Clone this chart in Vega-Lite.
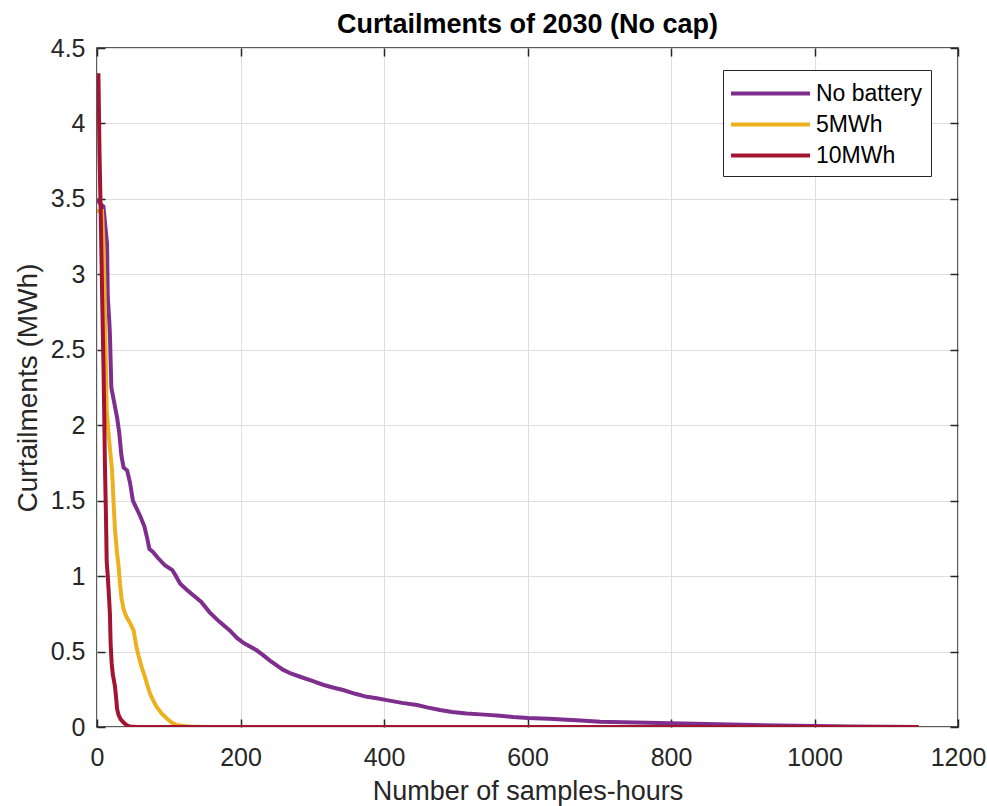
{
  "$schema": "https://vega.github.io/schema/vega-lite/v6.json",
  "width": 861,
  "height": 679,
  "autosize": {"type": "none"},
  "padding": {"left": 97, "top": 48, "right": 29, "bottom": 79},
  "background": "white",
  "title": {"text": "Curtailments of 2030 (No cap)", "fontSize": 27, "fontWeight": "bold", "font": "Liberation Sans", "color": "black", "offset": -3, "anchor": "middle"},
  "config": {"view": {"stroke": "#262626", "strokeWidth": 1.5}, "font": "Liberation Sans"},
  "datasets": {
    "curves": [
      {"s": "No battery", "x": 0, "y": 3.5}, {"s": "No battery", "x": 4, "y": 3.47}, {"s": "No battery", "x": 9, "y": 3.45}, {"s": "No battery", "x": 12, "y": 3.3}, {"s": "No battery", "x": 14, "y": 3.2}, {"s": "No battery", "x": 15, "y": 2.85}, {"s": "No battery", "x": 17, "y": 2.7}, {"s": "No battery", "x": 18, "y": 2.6}, {"s": "No battery", "x": 20, "y": 2.25}, {"s": "No battery", "x": 24, "y": 2.15}, {"s": "No battery", "x": 28, "y": 2.05}, {"s": "No battery", "x": 31, "y": 1.95}, {"s": "No battery", "x": 34, "y": 1.8}, {"s": "No battery", "x": 37, "y": 1.72}, {"s": "No battery", "x": 42, "y": 1.7}, {"s": "No battery", "x": 46, "y": 1.62}, {"s": "No battery", "x": 50, "y": 1.5}, {"s": "No battery", "x": 55, "y": 1.45}, {"s": "No battery", "x": 60, "y": 1.4}, {"s": "No battery", "x": 66, "y": 1.33}, {"s": "No battery", "x": 70, "y": 1.25}, {"s": "No battery", "x": 73, "y": 1.18}, {"s": "No battery", "x": 78, "y": 1.16}, {"s": "No battery", "x": 85, "y": 1.12}, {"s": "No battery", "x": 95, "y": 1.07}, {"s": "No battery", "x": 105, "y": 1.04}, {"s": "No battery", "x": 110, "y": 1.0}, {"s": "No battery", "x": 116, "y": 0.95}, {"s": "No battery", "x": 125, "y": 0.91}, {"s": "No battery", "x": 135, "y": 0.87}, {"s": "No battery", "x": 145, "y": 0.83}, {"s": "No battery", "x": 157, "y": 0.76}, {"s": "No battery", "x": 170, "y": 0.7}, {"s": "No battery", "x": 185, "y": 0.64}, {"s": "No battery", "x": 195, "y": 0.59}, {"s": "No battery", "x": 205, "y": 0.555}, {"s": "No battery", "x": 222, "y": 0.51}, {"s": "No battery", "x": 232, "y": 0.475}, {"s": "No battery", "x": 241, "y": 0.44}, {"s": "No battery", "x": 250, "y": 0.41}, {"s": "No battery", "x": 259, "y": 0.38}, {"s": "No battery", "x": 270, "y": 0.355}, {"s": "No battery", "x": 283, "y": 0.333}, {"s": "No battery", "x": 300, "y": 0.305}, {"s": "No battery", "x": 315, "y": 0.28}, {"s": "No battery", "x": 330, "y": 0.26}, {"s": "No battery", "x": 343, "y": 0.245}, {"s": "No battery", "x": 360, "y": 0.22}, {"s": "No battery", "x": 376, "y": 0.2}, {"s": "No battery", "x": 390, "y": 0.19}, {"s": "No battery", "x": 404, "y": 0.178}, {"s": "No battery", "x": 425, "y": 0.16}, {"s": "No battery", "x": 446, "y": 0.146}, {"s": "No battery", "x": 460, "y": 0.13}, {"s": "No battery", "x": 478, "y": 0.113}, {"s": "No battery", "x": 495, "y": 0.1}, {"s": "No battery", "x": 515, "y": 0.09}, {"s": "No battery", "x": 540, "y": 0.082}, {"s": "No battery", "x": 562, "y": 0.074}, {"s": "No battery", "x": 580, "y": 0.066}, {"s": "No battery", "x": 601, "y": 0.06}, {"s": "No battery", "x": 630, "y": 0.055}, {"s": "No battery", "x": 655, "y": 0.048}, {"s": "No battery", "x": 680, "y": 0.042}, {"s": "No battery", "x": 701, "y": 0.035}, {"s": "No battery", "x": 750, "y": 0.03}, {"s": "No battery", "x": 800, "y": 0.025}, {"s": "No battery", "x": 850, "y": 0.02}, {"s": "No battery", "x": 900, "y": 0.015}, {"s": "No battery", "x": 950, "y": 0.01}, {"s": "No battery", "x": 1000, "y": 0.006}, {"s": "No battery", "x": 1050, "y": 0.004}, {"s": "No battery", "x": 1100, "y": 0.002}, {"s": "No battery", "x": 1145, "y": 0},
      {"s": "5MWh", "x": 0, "y": 3.42}, {"s": "5MWh", "x": 7, "y": 3.42}, {"s": "5MWh", "x": 9, "y": 3.2}, {"s": "5MWh", "x": 10.5, "y": 2.9}, {"s": "5MWh", "x": 12, "y": 2.5}, {"s": "5MWh", "x": 13.5, "y": 2.1}, {"s": "5MWh", "x": 16, "y": 1.95}, {"s": "5MWh", "x": 19, "y": 1.8}, {"s": "5MWh", "x": 21, "y": 1.7}, {"s": "5MWh", "x": 23, "y": 1.5}, {"s": "5MWh", "x": 25, "y": 1.31}, {"s": "5MWh", "x": 28, "y": 1.15}, {"s": "5MWh", "x": 30, "y": 1.07}, {"s": "5MWh", "x": 32, "y": 0.95}, {"s": "5MWh", "x": 34, "y": 0.86}, {"s": "5MWh", "x": 37, "y": 0.78}, {"s": "5MWh", "x": 41, "y": 0.73}, {"s": "5MWh", "x": 46, "y": 0.69}, {"s": "5MWh", "x": 51, "y": 0.64}, {"s": "5MWh", "x": 55, "y": 0.53}, {"s": "5MWh", "x": 58, "y": 0.47}, {"s": "5MWh", "x": 62, "y": 0.4}, {"s": "5MWh", "x": 67, "y": 0.33}, {"s": "5MWh", "x": 70, "y": 0.28}, {"s": "5MWh", "x": 74, "y": 0.22}, {"s": "5MWh", "x": 78, "y": 0.18}, {"s": "5MWh", "x": 83, "y": 0.135}, {"s": "5MWh", "x": 90, "y": 0.09}, {"s": "5MWh", "x": 97, "y": 0.058}, {"s": "5MWh", "x": 104, "y": 0.03}, {"s": "5MWh", "x": 111, "y": 0.013}, {"s": "5MWh", "x": 120, "y": 0.006}, {"s": "5MWh", "x": 130, "y": 0.003}, {"s": "5MWh", "x": 150, "y": 0}, {"s": "5MWh", "x": 1145, "y": 0},
      {"s": "10MWh", "x": 0, "y": 4.32}, {"s": "10MWh", "x": 2, "y": 4.32}, {"s": "10MWh", "x": 3.5, "y": 3.8}, {"s": "10MWh", "x": 5, "y": 3.45}, {"s": "10MWh", "x": 7, "y": 2.9}, {"s": "10MWh", "x": 9, "y": 2.4}, {"s": "10MWh", "x": 10, "y": 2.1}, {"s": "10MWh", "x": 11, "y": 1.75}, {"s": "10MWh", "x": 12.5, "y": 1.4}, {"s": "10MWh", "x": 13.5, "y": 1.1}, {"s": "10MWh", "x": 15, "y": 1.0}, {"s": "10MWh", "x": 17, "y": 0.84}, {"s": "10MWh", "x": 18, "y": 0.75}, {"s": "10MWh", "x": 19, "y": 0.55}, {"s": "10MWh", "x": 20.5, "y": 0.42}, {"s": "10MWh", "x": 22, "y": 0.35}, {"s": "10MWh", "x": 25, "y": 0.27}, {"s": "10MWh", "x": 26.5, "y": 0.2}, {"s": "10MWh", "x": 28, "y": 0.12}, {"s": "10MWh", "x": 30, "y": 0.08}, {"s": "10MWh", "x": 33, "y": 0.05}, {"s": "10MWh", "x": 37, "y": 0.03}, {"s": "10MWh", "x": 41, "y": 0.013}, {"s": "10MWh", "x": 46, "y": 0.003}, {"s": "10MWh", "x": 55, "y": 0}, {"s": "10MWh", "x": 1145, "y": 0}
    ]
  },
  "data": {"name": "curves"},
  "layer": [
    {
      "mark": {"type": "line", "strokeWidth": 4, "clip": true},
      "encoding": {
        "x": {"field": "x", "type": "quantitative", "scale": {"domain": [0, 1200], "nice": false, "zero": false},
          "axis": {"title": "Number of samples-hours", "values": [0, 200, 400, 600, 800, 1000, 1200], "format": "d", "grid": true, "gridColor": "#dedede", "gridWidth": 1, "domain": false, "tickSize": -8, "tickColor": "#262626", "tickWidth": 1.5, "labelPadding": 26, "labelFontSize": 25, "labelColor": "#262626", "labelFont": "Liberation Sans", "titleFontSize": 27, "titleFontWeight": "normal", "titleColor": "#262626", "titleFont": "Liberation Sans", "titlePadding": 8, "labelFlush": false, "labelOverlap": false}},
        "y": {"field": "y", "type": "quantitative", "scale": {"domain": [0, 4.5], "nice": false, "zero": false},
          "axis": {"title": "Curtailments (MWh)", "values": [0, 0.5, 1, 1.5, 2, 2.5, 3, 3.5, 4, 4.5], "format": "~g", "grid": true, "gridColor": "#dedede", "gridWidth": 1, "domain": false, "tickSize": -8, "tickColor": "#262626", "tickWidth": 1.5, "labelPadding": 20, "labelFontSize": 25, "labelColor": "#262626", "labelFont": "Liberation Sans", "titleFontSize": 28, "titleFontWeight": "normal", "titleColor": "#262626", "titleFont": "Liberation Sans", "titlePadding": 8, "labelFlush": false, "labelOverlap": false}},
        "color": {"field": "s", "type": "nominal", "sort": ["No battery", "5MWh", "10MWh"],
          "scale": {"domain": ["No battery", "5MWh", "10MWh"], "range": ["#7E2F8E", "#EDB120", "#A2142F"]},
          "legend": {"title": null, "orient": "none", "legendX": 626, "legendY": 22, "symbolType": "M-3,0H3", "symbolSize": 693, "symbolStrokeWidth": 4, "symbolOffset": 24, "labelFontSize": 23, "labelFont": "Liberation Sans", "labelColor": "black", "labelOffset": 30, "rowPadding": 3, "padding": 8, "strokeColor": "#262626", "fillColor": "white", "cornerRadius": 0}}
      }
    },
    {
      "mark": {"type": "line", "opacity": 0},
      "encoding": {
        "x": {"field": "x", "type": "quantitative", "scale": {"domain": [0, 1200], "nice": false, "zero": false},
          "axis": {"orient": "top", "title": null, "values": [0, 200, 400, 600, 800, 1000, 1200], "labels": false, "grid": false, "domain": false, "tickSize": -8, "tickColor": "#262626", "tickWidth": 1.5}},
        "y": {"field": "y", "type": "quantitative", "scale": {"domain": [0, 4.5], "nice": false, "zero": false},
          "axis": {"orient": "right", "title": null, "values": [0, 0.5, 1, 1.5, 2, 2.5, 3, 3.5, 4, 4.5], "labels": false, "grid": false, "domain": false, "tickSize": -8, "tickColor": "#262626", "tickWidth": 1.5}}
      }
    }
  ],
  "resolve": {"axis": {"x": "independent", "y": "independent"}}
}
